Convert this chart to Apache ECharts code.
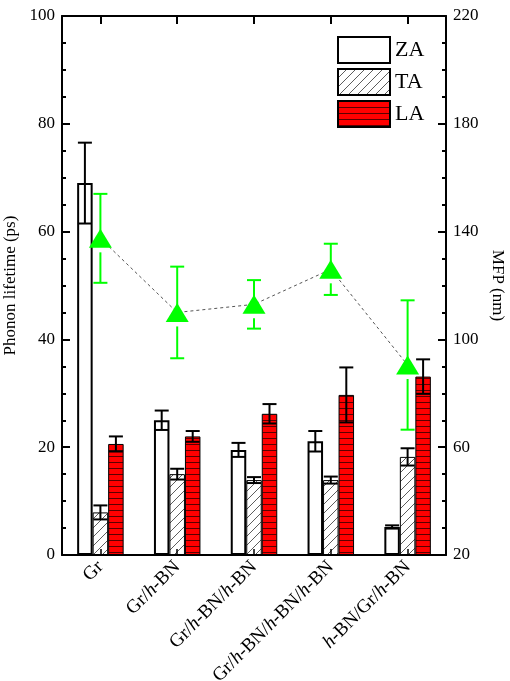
<!DOCTYPE html>
<html>
<head>
<meta charset="utf-8">
<script src="https://cdn.jsdelivr.net/npm/echarts@6/dist/echarts.min.js"></script>
<style>
  html, body { margin: 0; padding: 0; background: #fff; }
  #chart { width: 510px; height: 681px; }
</style>
</head>
<body>
<div id="chart"></div>
<script>
// data
const categories = ['Gr', 'Gr/h-BN', 'Gr/h-BN/h-BN', 'Gr/h-BN/h-BN/h-BN', 'h-BN/Gr/h-BN']
const zaLife = [69.0, 25.0, 19.5, 21.1, 5.2]
const zaErr = [7.5, 1.8, 1.3, 1.9, 0.3]
const taLife = [7.9, 15.0, 13.9, 13.9, 18.2]
const taErr = [1.3, 1.0, 0.55, 0.65, 1.6]
const laLife = [20.6, 22.0, 26.2, 29.7, 33.1]
const laErr = [1.4, 1.0, 1.8, 5.1, 3.2]
const mfp = [137.5, 110, 113, 126, 90.5]
const mfpErr = [16.5, 17, 9, 9.5, 24]

const FONT = 'Liberation Serif'
const BAR_W = 15.5

function hatchTile () {
  let c = document.createElement('canvas')
  c.width = 9
  c.height = 9
  let ctx = c.getContext('2d')
  ctx.fillStyle = '#fff'
  ctx.fillRect(0, 0, 9, 9)
  ctx.strokeStyle = '#333'
  ctx.lineWidth = 0.8
  ctx.beginPath()
  ctx.moveTo(-1, 10); ctx.lineTo(10, -1)
  ctx.moveTo(-1, 1); ctx.lineTo(1, -1)
  ctx.moveTo(8, 10); ctx.lineTo(10, 8)
  ctx.stroke()
  return c
}

function stripeTile () {
  let c = document.createElement('canvas')
  c.width = 6
  c.height = 6
  let ctx = c.getContext('2d')
  ctx.fillStyle = '#ff0000'
  ctx.fillRect(0, 0, 6, 6)
  ctx.fillStyle = '#5a0000'
  ctx.fillRect(0, 0, 6, 1)
  return c
}

function errData (vals, errs) {
  return vals.map((v, i) => [i, v, errs[i]])
}

// error bars drawn through the axes, offset sideways to sit on each bar
function errRender (offset, color, gap) {
  return function (params, api) {
    let i = api.value(0)
    let v = api.value(1)
    let e = api.value(2)
    let c = api.coord([i, v])
    let top = api.coord([i, v + e])
    let bot = api.coord([i, v - e])
    let x = c[0] + offset
    let style = { stroke: color, lineWidth: 2 }
    let kids = [
      { type: 'line', shape: { x1: x - 7, y1: top[1], x2: x + 7, y2: top[1] }, style },
      { type: 'line', shape: { x1: x - 7, y1: bot[1], x2: x + 7, y2: bot[1] }, style }
    ]
    if (gap) {
      kids.push({ type: 'line', shape: { x1: x, y1: top[1], x2: x, y2: c[1] }, style })
      kids.push({ type: 'line', shape: { x1: x, y1: c[1] + gap, x2: x, y2: bot[1] }, style })
    } else {
      kids.push({ type: 'line', shape: { x1: x, y1: top[1], x2: x, y2: bot[1] }, style })
    }
    return { type: 'group', children: kids }
  }
}

let axisCommon = {
  axisLine: { show: true, lineStyle: { color: '#000', width: 2 } },
  axisTick: { show: true, inside: true, length: 8, lineStyle: { color: '#000', width: 2 } },
  minorTick: { show: true, splitNumber: 4, length: 4, lineStyle: { color: '#000', width: 2 } },
  splitLine: { show: false },
  axisLabel: { color: '#000', fontFamily: FONT, fontSize: 17, margin: 7 },
  nameTextStyle: { color: '#000', fontFamily: FONT, fontSize: 17 }
}

let options = {
  animation: false,
  backgroundColor: '#fff',
  grid: { left: 62, right: 64, top: 16, bottom: 126, outerBoundsMode: 'none', containLabel: false },
  legend: {
    data: ['ZA', 'TA', 'LA'],
    orient: 'vertical',
    left: 332,
    top: 31,
    itemWidth: 52,
    itemHeight: 26,
    itemGap: 4,
    icon: 'rect',
    textStyle: { color: '#000', fontFamily: FONT, fontSize: 22 }
  },
  xAxis: [
    {
      type: 'category',
      data: categories,
      position: 'bottom',
      axisLine: { show: true, onZero: false, lineStyle: { color: '#000', width: 2 } },
      axisTick: { show: true, inside: true, interval: 0, alignWithLabel: true, length: 6, lineStyle: { color: '#000', width: 1.5 } },
      axisLabel: {
        interval: 0,
        rotate: 45,
        margin: 9,
        color: '#000',
        fontFamily: FONT,
        fontSize: 19,
        formatter: v => v.replace(/(^|\/)h-/g, '$1{i|h}-'),
        rich: { i: { fontStyle: 'italic', fontFamily: FONT, fontSize: 19, color: '#000' } }
      },
      z: 10
    },
    {
      type: 'category',
      data: categories,
      position: 'top',
      axisLine: { show: true, onZero: false, lineStyle: { color: '#000', width: 2 } },
      axisTick: { show: true, inside: true, interval: 0, alignWithLabel: true, length: 8, lineStyle: { color: '#000', width: 2 } },
      axisLabel: { show: false },
      z: 10
    }
  ],
  yAxis: [
    Object.assign({}, axisCommon, {
      type: 'value',
      min: 0,
      max: 100,
      interval: 20,
      name: 'Phonon lifetime (ps)',
      nameLocation: 'middle',
      nameGap: 42
    }),
    Object.assign({}, axisCommon, {
      type: 'value',
      position: 'right',
      min: 20,
      max: 220,
      interval: 40,
      name: 'MFP (nm)',
      nameLocation: 'middle',
      nameRotate: -90,
      nameGap: 42
    })
  ],
  series: [
    {
      name: 'ZA',
      type: 'bar',
      barWidth: BAR_W,
      barGap: '0%',
      data: zaLife,
      itemStyle: { color: '#fff', borderColor: '#000', borderWidth: 2 }
    },
    {
      name: 'TA',
      type: 'bar',
      barWidth: BAR_W,
      barGap: '0%',
      data: taLife,
      itemStyle: { color: { image: hatchTile(), repeat: 'repeat' }, borderColor: '#000', borderWidth: 1 }
    },
    {
      name: 'LA',
      type: 'bar',
      barWidth: BAR_W,
      barGap: '0%',
      data: laLife,
      itemStyle: { color: { image: stripeTile(), repeat: 'repeat' }, borderColor: '#000', borderWidth: 1 }
    },
    {
      type: 'custom',
      renderItem: errRender(-BAR_W, '#000', 0),
      data: errData(zaLife, zaErr),
      z: 3
    },
    {
      type: 'custom',
      renderItem: errRender(0, '#000', 0),
      data: errData(taLife, taErr),
      z: 3
    },
    {
      type: 'custom',
      renderItem: errRender(BAR_W, '#000', 0),
      data: errData(laLife, laErr),
      z: 3
    },
    {
      type: 'custom',
      xAxisIndex: 1,
      yAxisIndex: 1,
      renderItem: errRender(0, '#00ff00', 14),
      data: errData(mfp, mfpErr),
      z: 4
    },
    {
      name: 'MFP',
      type: 'line',
      xAxisIndex: 1,
      yAxisIndex: 1,
      data: mfp,
      symbol: 'triangle',
      symbolSize: [23, 19],
      itemStyle: { color: '#00ff00' },
      lineStyle: { color: '#555', width: 1, type: [3, 3] },
      z: 5
    }
  ]
}

let myChart = echarts.init(document.getElementById('chart'))
myChart.setOption(options)
</script>
</body>
</html>
